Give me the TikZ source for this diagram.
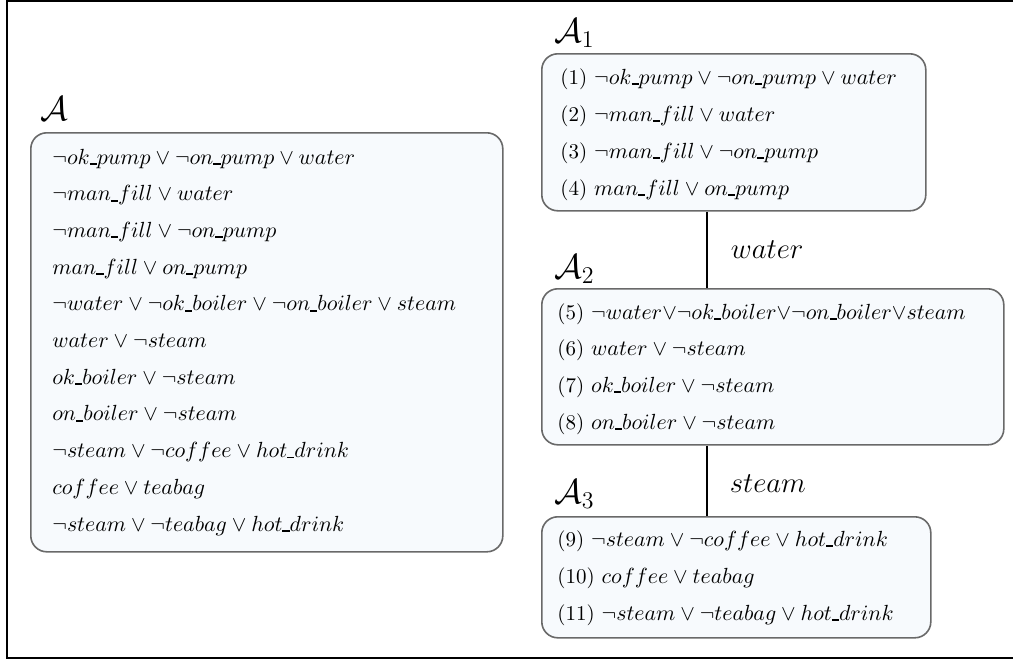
\documentclass[tikz,border=0pt]{standalone}
\usetikzlibrary{positioning}
\definecolor{boxfill}{RGB}{247,250,253}
\definecolor{boxline}{RGB}{105,105,105}
\newcommand{\us}{\rule[-0.4pt]{3.6pt}{0.9pt}}
\tikzset{
  clausebox/.style={draw=boxline, fill=boxfill, line width=0.8pt, rounded corners=8pt, inner sep=0pt, anchor=north west},
  clause/.style={anchor=base west, inner sep=0pt, font=\fontsize{10.5}{12}\selectfont},
  boxlabel/.style={anchor=base west, inner sep=0pt, font=\fontsize{16.5}{18}\selectfont},
  edgelabel/.style={inner sep=0pt, font=\fontsize{14}{16}\selectfont},
}
\begin{document}
\begin{tikzpicture}[x=0.5pt,y=-0.5pt]
  \useasboundingbox (0,0) rectangle (1013,660);

  % frame
  \draw[line width=1.2pt] (1020,1) -- (7,1) -- (7,658) -- (1020,658);

  % boxes
  \node[clausebox, minimum width=236pt, minimum height=209.5pt] (boxA) at (30,132) {};
  \node[clausebox, minimum width=192pt, minimum height=78.5pt] (boxAi) at (541,53) {};
  \node[clausebox, minimum width=231pt, minimum height=78pt] (boxAii) at (541,288) {};
  \node[clausebox, minimum width=194.5pt, minimum height=60.5pt] (boxAiii) at (541,516) {};

  % box labels
  \node[boxlabel] (labA) at (40,120) {$\mathcal{A}$};
  \node[boxlabel] (labAi) at (554,42) {$\mathcal{A}_1$};
  \node[boxlabel] (labAii) at (554,278) {$\mathcal{A}_2$};
  \node[boxlabel] (labAiii) at (554,503) {$\mathcal{A}_3$};

  % clauses of A
  \foreach \txt [count=\i] in {
      $\neg ok\us pump \vee \neg on\us pump \vee water$,
      $\neg man\us fill \vee water$,
      $\neg man\us fill \vee \neg on\us pump$,
      $man\us fill \vee on\us pump$,
      $\neg water \vee \neg ok\us boiler \vee \neg on\us boiler \vee steam$,
      $water \vee \neg steam$,
      $ok\us boiler \vee \neg steam$,
      $on\us boiler \vee \neg steam$,
      $\neg steam \vee \neg coffee \vee hot\us drink$,
      $coffee \vee teabag$,
      $\neg steam \vee \neg teabag \vee hot\us drink$}
    \node[clause] (clA\i) at (52,{164+36.7*(\i-1)}) {\txt};

  % clauses of A1
  \foreach \txt [count=\i] in {
      (1) $\neg ok\us pump \vee \neg on\us pump \vee water$,
      (2) $\neg man\us fill \vee water$,
      (3) $\neg man\us fill \vee \neg on\us pump$,
      (4) $man\us fill \vee on\us pump$}
    \node[clause] (clAi\i) at (560,{84+37*(\i-1)}) {\txt};

  % clauses of A2
  \foreach \txt [count=\i] in {
      (5) {\medmuskip=0mu $\neg water \vee \neg ok\us boiler \vee \neg on\us boiler \vee steam$},
      (6) $water \vee \neg steam$,
      (7) $ok\us boiler \vee \neg steam$,
      (8) $on\us boiler \vee \neg steam$}
    \node[clause] (clAii\i) at (557,{319+36.7*(\i-1)}) {\txt};

  % clauses of A3
  \foreach \txt [count=\i] in {
      (9) $\neg steam \vee \neg coffee \vee hot\us drink$,
      (10) $coffee \vee teabag$,
      (11) $\neg steam \vee \neg teabag \vee hot\us drink$}
    \node[clause] (clAiii\i) at (557,{546+37*(\i-1)}) {\txt};

  % connectors
  \coordinate (conx) at (707,0);
  \draw[line width=0.9pt] (boxAi.south -| conx) -- node[edgelabel, right=11.5pt] {$water$} (boxAii.north -| conx);
  \draw[line width=0.9pt] (boxAii.south -| conx) -- node[edgelabel, right=11pt, yshift=-1.5pt] {$steam$} (boxAiii.north -| conx);
\end{tikzpicture}
\end{document}
